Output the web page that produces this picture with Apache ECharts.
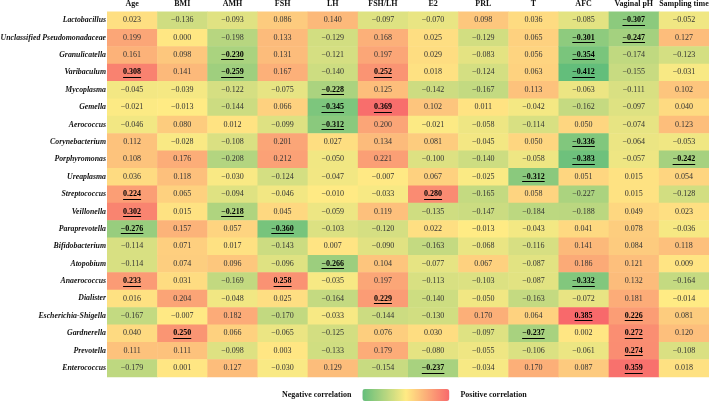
<!DOCTYPE html>
<html>
<head>
<meta charset="utf-8">
<script src="https://cdn.jsdelivr.net/npm/echarts@6/dist/echarts.min.js"></script>
<style>
html,body{margin:0;padding:0;background:#fff;}
#chart{width:709px;height:402px;}
</style>
</head>
<body>
<div id="chart"></div>
<script>
const genera = ['Lactobacillus','Unclassified Pseudomonadaceae','Granulicatella','Varibaculum','Mycoplasma','Gemella','Aerococcus','Corynebacterium','Porphyromonas','Ureaplasma','Streptococcus','Veillonella','Paraprevotella','Bifidobacterium','Atopobium','Anaerococcus','Dialister','Escherichia-Shigella','Gardnerella','Prevotella','Enterococcus'];
const factors = ['Age','BMI','AMH','FSH','LH','FSH/LH','E2','PRL','T','AFC','Vaginal pH','Sampling time'];

// one array per factor, in genera order
const age      = [0.023, 0.199, 0.161, 0.308, -0.045, -0.021, -0.046, 0.112, 0.108, 0.036, 0.224, 0.302, -0.276, -0.114, -0.114, 0.233, 0.016, -0.167, 0.040, 0.111, -0.179];
const bmi      = [-0.136, 0.000, 0.098, 0.141, -0.039, -0.013, 0.080, -0.028, 0.176, 0.118, 0.065, 0.015, 0.157, 0.071, 0.074, 0.031, 0.204, -0.007, 0.250, 0.111, 0.001];
const amh      = [-0.093, -0.198, -0.230, -0.259, -0.122, -0.144, 0.012, -0.108, -0.208, -0.030, -0.094, -0.218, 0.057, 0.017, 0.096, -0.169, -0.048, 0.182, 0.066, -0.098, 0.127];
const fsh      = [0.086, 0.133, 0.131, 0.167, -0.075, 0.066, -0.099, 0.201, 0.212, -0.124, -0.046, 0.045, -0.360, -0.143, -0.096, 0.258, 0.025, -0.170, -0.065, 0.003, -0.030];
const lh       = [0.140, -0.129, -0.121, -0.140, -0.228, -0.345, -0.312, 0.027, -0.050, -0.047, -0.010, -0.059, -0.103, 0.007, -0.266, -0.035, -0.164, -0.033, -0.125, -0.133, 0.129];
const fshlh    = [-0.097, 0.168, 0.197, 0.252, 0.125, 0.369, 0.200, 0.134, 0.221, -0.007, -0.033, 0.119, -0.120, -0.090, 0.104, 0.197, 0.229, -0.144, 0.076, 0.179, -0.154];
const e2       = [-0.070, 0.025, 0.029, 0.018, -0.142, 0.102, -0.021, 0.081, -0.100, 0.067, 0.280, -0.135, 0.022, -0.163, -0.077, -0.113, -0.140, -0.130, 0.030, -0.080, -0.237];
const prl      = [0.098, -0.129, -0.083, -0.124, -0.167, 0.011, -0.058, -0.045, -0.140, -0.025, -0.165, -0.147, -0.013, -0.068, 0.067, -0.103, -0.050, 0.170, -0.097, -0.055, -0.034];
const testo    = [0.036, 0.065, 0.056, 0.063, 0.113, -0.042, -0.114, 0.050, -0.058, -0.312, 0.058, -0.184, -0.043, -0.116, -0.087, -0.087, -0.163, 0.064, -0.237, -0.106, 0.170];
const afc      = [-0.085, -0.301, -0.354, -0.412, -0.063, -0.162, 0.050, -0.336, -0.383, 0.051, -0.227, -0.188, 0.041, 0.141, 0.186, -0.332, -0.072, 0.385, 0.002, -0.061, 0.087];
const vaginal  = [-0.307, -0.247, -0.174, -0.155, -0.111, -0.097, -0.074, -0.064, -0.057, 0.015, 0.015, 0.049, 0.078, 0.084, 0.121, 0.132, 0.181, 0.226, 0.272, 0.274, 0.359];
const sampling = [-0.052, 0.127, -0.123, -0.031, 0.102, 0.040, 0.123, -0.053, -0.242, 0.054, -0.128, 0.023, -0.036, 0.118, 0.009, -0.164, -0.014, 0.081, 0.120, -0.108, 0.018];

const columns = [age, bmi, amh, fsh, lh, fshlh, e2, prl, testo, afc, vaginal, sampling];

// significant (bold + underlined) cells: [genus, factor]
const significant = [
  ['Lactobacillus','Vaginal pH'],
  ['Unclassified Pseudomonadaceae','AFC'],['Unclassified Pseudomonadaceae','Vaginal pH'],
  ['Granulicatella','AMH'],['Granulicatella','AFC'],
  ['Varibaculum','Age'],['Varibaculum','AMH'],['Varibaculum','FSH/LH'],['Varibaculum','AFC'],
  ['Mycoplasma','LH'],
  ['Gemella','LH'],['Gemella','FSH/LH'],
  ['Aerococcus','LH'],
  ['Corynebacterium','AFC'],
  ['Porphyromonas','AFC'],['Porphyromonas','Sampling time'],
  ['Ureaplasma','T'],
  ['Streptococcus','Age'],['Streptococcus','E2'],
  ['Veillonella','Age'],['Veillonella','AMH'],
  ['Paraprevotella','Age'],['Paraprevotella','FSH'],
  ['Atopobium','LH'],
  ['Anaerococcus','Age'],['Anaerococcus','FSH'],['Anaerococcus','AFC'],
  ['Dialister','FSH/LH'],
  ['Escherichia-Shigella','AFC'],['Escherichia-Shigella','Vaginal pH'],
  ['Gardnerella','BMI'],['Gardnerella','T'],['Gardnerella','Vaginal pH'],
  ['Prevotella','Vaginal pH'],
  ['Enterococcus','E2'],['Enterococcus','Vaginal pH']
];

const FONT = '"Liberation Serif", "Times New Roman", serif';
const sigSet = new Set(significant.map(p => p[0] + '|' + p[1]));
const data = [];
let vmin = Infinity, vmax = -Infinity;
columns.forEach((col, xi) => {
  col.forEach((v, yi) => {
    const s = sigSet.has(genera[yi] + '|' + factors[xi]) ? 1 : 0;
    data.push([xi, yi, v, s]);
    vmin = Math.min(vmin, v); vmax = Math.max(vmax, v);
  });
});

function fmt(v) {
  const t = Math.abs(v).toFixed(3);
  return v < 0 ? '\u2212' + t : t;
}
const measureCtx = document.createElement('canvas').getContext('2d');
function textWidth(t, font) { measureCtx.font = font; return measureCtx.measureText(t).width; }

const FS = 8;
const chart = echarts.init(document.getElementById('chart'), null, {renderer: 'canvas'});
chart.setOption({
  animation: false,
  backgroundColor: '#ffffff',
  grid: {left: 107, right: 0, top: 11.5, bottom: 25.3, containLabel: false, outerBoundsMode: 'none'},
  xAxis: {
    type: 'category', data: factors, position: 'top',
    axisLine: {show: false}, axisTick: {show: false}, splitLine: {show: false},
    axisLabel: {interval: 0, margin: 4, color: '#111', fontFamily: FONT, fontWeight: 'bold', fontSize: FS}
  },
  yAxis: {
    type: 'category', data: genera, inverse: true,
    axisLine: {show: false}, axisTick: {show: false}, splitLine: {show: false},
    axisLabel: {interval: 0, margin: 1, color: '#111', fontFamily: FONT, fontWeight: 'bold', fontStyle: 'italic', fontSize: 7.8}
  },
  visualMap: {
    show: true,
    type: 'continuous', min: vmin, max: vmax, dimension: 2, seriesIndex: 0,
    orient: 'horizontal', calculable: false,
    left: 267, bottom: -14, itemWidth: 12, itemHeight: 87, textGap: 11,
    text: ['Positive correlation', 'Negative correlation'],
    textStyle: {color: '#111', fontFamily: FONT, fontWeight: 'bold', fontSize: FS},
    inRange: {color: ['#63BE7B', '#FFEB84', '#F8696B']}
  },
  series: [{
    type: 'custom',
    encode: {x: 0, y: 1},
    data: data,
    renderItem: function (params, api) {
      const xi = api.value(0), yi = api.value(1), v = api.value(2), s = api.value(3);
      const c = api.coord([xi, yi]);
      const sz = api.size([1, 1]);
      const color = api.visual('color');
      const txt = fmt(v);
      const font = (s ? 'bold ' : '') + FS + 'px ' + FONT;
      const children = [{
        type: 'rect',
        shape: {x: c[0] - sz[0] / 2, y: c[1] - sz[1] / 2, width: sz[0] + 0.5, height: sz[1] + 0.5},
        style: {fill: color}
      }, {
        type: 'text',
        style: {text: txt, x: c[0], y: c[1], align: 'center', verticalAlign: 'middle',
                font: font, fill: s ? '#000' : '#333'}
      }];
      if (s) {
        const w = textWidth(txt, font);
        const ly = Math.round(c[1] + 4.5) + 0.5;
        children.push({
          type: 'line',
          shape: {x1: c[0] - w / 2, y1: ly, x2: c[0] + w / 2, y2: ly},
          style: {stroke: '#000', lineWidth: 1}
        });
      }
      return {type: 'group', children: children};
    }
  }]
});
</script>
</body>
</html>
